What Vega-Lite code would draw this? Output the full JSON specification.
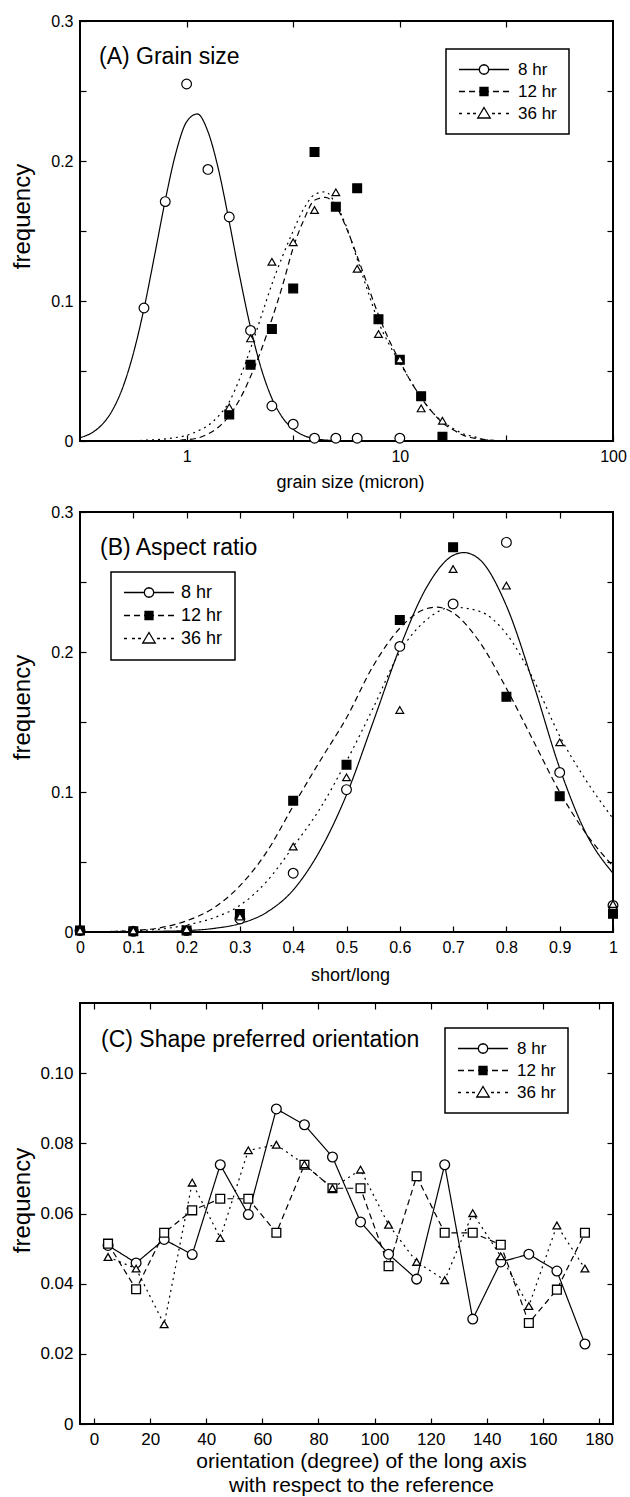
{
  "$schema": "https://vega.github.io/schema/vega-lite/v6.json",
  "background": "white",
  "padding": {"left": 9, "top": 12, "right": 4, "bottom": 0},
  "bounds": "flush",
  "spacing": 71,
  "config": {
    "font": "Liberation Sans",
    "view": {"stroke": "black", "strokeWidth": 2},
    "axis": {"domain": false, "grid": false, "tickColor": "black", "tickWidth": 1.2, "tickSize": -6, "labelColor": "black", "labelFont": "Liberation Sans Narrow, Liberation Sans, Arial, sans-serif", "labelFontSize": 16, "labelPadding": 13, "labelFlush": false, "labelOverlap": false, "titleColor": "black", "titleFont": "Liberation Sans", "titleFontWeight": "normal", "titleFontSize": 24},
    "legend": {"strokeWidth": 1.5},
    "title": {"font": "Liberation Sans", "fontSize": 23, "fontWeight": "normal", "color": "black", "anchor": "start", "frame": "group", "baseline": "alphabetic"}
  },
  "datasets": {
    "ptsA": [
      {"x": 0.631, "y": 0.095, "s": "8 hr"}, {"x": 0.794, "y": 0.171, "s": "8 hr"}, {"x": 1.0, "y": 0.255, "s": "8 hr"}, {"x": 1.259, "y": 0.194, "s": "8 hr"}, {"x": 1.585, "y": 0.16, "s": "8 hr"}, {"x": 1.995, "y": 0.079, "s": "8 hr"}, {"x": 2.512, "y": 0.025, "s": "8 hr"}, {"x": 3.162, "y": 0.012, "s": "8 hr"}, {"x": 3.981, "y": 0.002, "s": "8 hr"}, {"x": 5.012, "y": 0.002, "s": "8 hr"}, {"x": 6.31, "y": 0.002, "s": "8 hr"}, {"x": 10, "y": 0.002, "s": "8 hr"},
      {"x": 1.585, "y": 0.019, "s": "12 hr"}, {"x": 1.995, "y": 0.0545, "s": "12 hr"}, {"x": 2.512, "y": 0.08, "s": "12 hr"}, {"x": 3.162, "y": 0.109, "s": "12 hr"}, {"x": 3.981, "y": 0.2064, "s": "12 hr"}, {"x": 5.012, "y": 0.1674, "s": "12 hr"}, {"x": 6.31, "y": 0.1805, "s": "12 hr"}, {"x": 7.943, "y": 0.087, "s": "12 hr"}, {"x": 10, "y": 0.058, "s": "12 hr"}, {"x": 12.59, "y": 0.032, "s": "12 hr"}, {"x": 15.85, "y": 0.003, "s": "12 hr"},
      {"x": 1.585, "y": 0.024, "s": "36 hr"}, {"x": 1.995, "y": 0.0733, "s": "36 hr"}, {"x": 2.512, "y": 0.128, "s": "36 hr"}, {"x": 3.162, "y": 0.142, "s": "36 hr"}, {"x": 3.981, "y": 0.165, "s": "36 hr"}, {"x": 5.012, "y": 0.1776, "s": "36 hr"}, {"x": 6.31, "y": 0.123, "s": "36 hr"}, {"x": 7.943, "y": 0.0764, "s": "36 hr"}, {"x": 10, "y": 0.0583, "s": "36 hr"}, {"x": 12.59, "y": 0.0233, "s": "36 hr"}, {"x": 15.85, "y": 0.0145, "s": "36 hr"}
    ],
    "crvA": [
      {"x": 0.3162, "y": 0.0024, "s": "8 hr"}, {"x": 0.3548, "y": 0.0054, "s": "8 hr"}, {"x": 0.3981, "y": 0.0112, "s": "8 hr"}, {"x": 0.4467, "y": 0.0214, "s": "8 hr"}, {"x": 0.5012, "y": 0.038, "s": "8 hr"}, {"x": 0.5623, "y": 0.0624, "s": "8 hr"}, {"x": 0.631, "y": 0.0945, "s": "8 hr"}, {"x": 0.7079, "y": 0.1327, "s": "8 hr"}, {"x": 0.7943, "y": 0.172, "s": "8 hr"}, {"x": 0.8913, "y": 0.206, "s": "8 hr"}, {"x": 1.0, "y": 0.228, "s": "8 hr"}, {"x": 1.122, "y": 0.2336, "s": "8 hr"}, {"x": 1.259, "y": 0.221, "s": "8 hr"}, {"x": 1.413, "y": 0.1935, "s": "8 hr"}, {"x": 1.585, "y": 0.1565, "s": "8 hr"}, {"x": 1.778, "y": 0.117, "s": "8 hr"}, {"x": 1.995, "y": 0.081, "s": "8 hr"}, {"x": 2.239, "y": 0.0517, "s": "8 hr"}, {"x": 2.512, "y": 0.0305, "s": "8 hr"}, {"x": 2.818, "y": 0.0167, "s": "8 hr"}, {"x": 3.162, "y": 0.0084, "s": "8 hr"}, {"x": 3.548, "y": 0.0039, "s": "8 hr"}, {"x": 3.981, "y": 0.0017, "s": "8 hr"}, {"x": 5.012, "y": 0.0003, "s": "8 hr"}, {"x": 6.31, "y": 0, "s": "8 hr"}, {"x": 10, "y": 0, "s": "8 hr"}, {"x": 100, "y": 0, "s": "8 hr"},
      {"x": 0.3162, "y": 0, "s": "12 hr"}, {"x": 0.631, "y": 0, "s": "12 hr"}, {"x": 0.7943, "y": 0, "s": "12 hr"}, {"x": 1.0, "y": 0.001, "s": "12 hr"}, {"x": 1.122, "y": 0.002, "s": "12 hr"}, {"x": 1.259, "y": 0.005, "s": "12 hr"}, {"x": 1.413, "y": 0.01, "s": "12 hr"}, {"x": 1.585, "y": 0.018, "s": "12 hr"}, {"x": 1.778, "y": 0.03, "s": "12 hr"}, {"x": 1.995, "y": 0.046, "s": "12 hr"}, {"x": 2.239, "y": 0.065, "s": "12 hr"}, {"x": 2.512, "y": 0.087, "s": "12 hr"}, {"x": 2.818, "y": 0.111, "s": "12 hr"}, {"x": 3.162, "y": 0.138, "s": "12 hr"}, {"x": 3.548, "y": 0.158, "s": "12 hr"}, {"x": 3.981, "y": 0.172, "s": "12 hr"}, {"x": 4.467, "y": 0.174, "s": "12 hr"}, {"x": 5.012, "y": 0.168, "s": "12 hr"}, {"x": 5.623, "y": 0.152, "s": "12 hr"}, {"x": 6.31, "y": 0.132, "s": "12 hr"}, {"x": 7.079, "y": 0.111, "s": "12 hr"}, {"x": 7.943, "y": 0.09, "s": "12 hr"}, {"x": 8.913, "y": 0.072, "s": "12 hr"}, {"x": 10, "y": 0.057, "s": "12 hr"}, {"x": 11.22, "y": 0.043, "s": "12 hr"}, {"x": 12.59, "y": 0.031, "s": "12 hr"}, {"x": 14.13, "y": 0.021, "s": "12 hr"}, {"x": 15.85, "y": 0.013, "s": "12 hr"}, {"x": 17.78, "y": 0.008, "s": "12 hr"}, {"x": 19.95, "y": 0.004, "s": "12 hr"}, {"x": 22.39, "y": 0.002, "s": "12 hr"}, {"x": 25.12, "y": 0.001, "s": "12 hr"}, {"x": 31.62, "y": 0, "s": "12 hr"}, {"x": 100, "y": 0, "s": "12 hr"},
      {"x": 0.3162, "y": 0, "s": "36 hr"}, {"x": 0.5012, "y": 0, "s": "36 hr"}, {"x": 0.631, "y": 0.0005, "s": "36 hr"}, {"x": 0.7943, "y": 0.0015, "s": "36 hr"}, {"x": 0.8913, "y": 0.0025, "s": "36 hr"}, {"x": 1.0, "y": 0.004, "s": "36 hr"}, {"x": 1.122, "y": 0.007, "s": "36 hr"}, {"x": 1.259, "y": 0.011, "s": "36 hr"}, {"x": 1.413, "y": 0.018, "s": "36 hr"}, {"x": 1.585, "y": 0.028, "s": "36 hr"}, {"x": 1.778, "y": 0.045, "s": "36 hr"}, {"x": 1.995, "y": 0.066, "s": "36 hr"}, {"x": 2.239, "y": 0.089, "s": "36 hr"}, {"x": 2.512, "y": 0.112, "s": "36 hr"}, {"x": 2.818, "y": 0.132, "s": "36 hr"}, {"x": 3.162, "y": 0.15, "s": "36 hr"}, {"x": 3.548, "y": 0.166, "s": "36 hr"}, {"x": 3.981, "y": 0.176, "s": "36 hr"}, {"x": 4.467, "y": 0.178, "s": "36 hr"}, {"x": 5.012, "y": 0.169, "s": "36 hr"}, {"x": 5.623, "y": 0.153, "s": "36 hr"}, {"x": 6.31, "y": 0.13, "s": "36 hr"}, {"x": 7.079, "y": 0.107, "s": "36 hr"}, {"x": 7.943, "y": 0.085, "s": "36 hr"}, {"x": 8.913, "y": 0.069, "s": "36 hr"}, {"x": 10, "y": 0.056, "s": "36 hr"}, {"x": 11.22, "y": 0.043, "s": "36 hr"}, {"x": 12.59, "y": 0.031, "s": "36 hr"}, {"x": 14.13, "y": 0.021, "s": "36 hr"}, {"x": 15.85, "y": 0.014, "s": "36 hr"}, {"x": 17.78, "y": 0.009, "s": "36 hr"}, {"x": 19.95, "y": 0.005, "s": "36 hr"}, {"x": 22.39, "y": 0.003, "s": "36 hr"}, {"x": 25.12, "y": 0.001, "s": "36 hr"}, {"x": 31.62, "y": 0, "s": "36 hr"}, {"x": 100, "y": 0, "s": "36 hr"}
    ],
    "ptsB": [
      {"x": 0, "y": 0.001, "s": "8 hr"}, {"x": 0.1, "y": 0.0005, "s": "8 hr"}, {"x": 0.2, "y": 0.001, "s": "8 hr"}, {"x": 0.3, "y": 0.0093, "s": "8 hr"}, {"x": 0.4, "y": 0.042, "s": "8 hr"}, {"x": 0.5, "y": 0.1017, "s": "8 hr"}, {"x": 0.6, "y": 0.204, "s": "8 hr"}, {"x": 0.7, "y": 0.2343, "s": "8 hr"}, {"x": 0.8, "y": 0.2783, "s": "8 hr"}, {"x": 0.9, "y": 0.114, "s": "8 hr"}, {"x": 1.0, "y": 0.019, "s": "8 hr"},
      {"x": 0, "y": 0.001, "s": "12 hr"}, {"x": 0.1, "y": 0.0005, "s": "12 hr"}, {"x": 0.2, "y": 0.001, "s": "12 hr"}, {"x": 0.3, "y": 0.0129, "s": "12 hr"}, {"x": 0.4, "y": 0.0938, "s": "12 hr"}, {"x": 0.5, "y": 0.1195, "s": "12 hr"}, {"x": 0.6, "y": 0.2229, "s": "12 hr"}, {"x": 0.7, "y": 0.2748, "s": "12 hr"}, {"x": 0.8, "y": 0.168, "s": "12 hr"}, {"x": 0.9, "y": 0.097, "s": "12 hr"}, {"x": 1.0, "y": 0.013, "s": "12 hr"},
      {"x": 0, "y": 0.001, "s": "36 hr"}, {"x": 0.1, "y": 0.001, "s": "36 hr"}, {"x": 0.2, "y": 0.002, "s": "36 hr"}, {"x": 0.3, "y": 0.011, "s": "36 hr"}, {"x": 0.4, "y": 0.061, "s": "36 hr"}, {"x": 0.5, "y": 0.1105, "s": "36 hr"}, {"x": 0.6, "y": 0.1586, "s": "36 hr"}, {"x": 0.7, "y": 0.2593, "s": "36 hr"}, {"x": 0.8, "y": 0.2474, "s": "36 hr"}, {"x": 0.9, "y": 0.1355, "s": "36 hr"}, {"x": 1.0, "y": 0.02, "s": "36 hr"}
    ],
    "crvB": [
      {"x": 0, "y": 0, "s": "8 hr"}, {"x": 0.05, "y": 0, "s": "8 hr"}, {"x": 0.1, "y": 0, "s": "8 hr"}, {"x": 0.15, "y": 0.0005, "s": "8 hr"}, {"x": 0.2, "y": 0.001, "s": "8 hr"}, {"x": 0.25, "y": 0.0025, "s": "8 hr"}, {"x": 0.3, "y": 0.006, "s": "8 hr"}, {"x": 0.35, "y": 0.014, "s": "8 hr"}, {"x": 0.4, "y": 0.03, "s": "8 hr"}, {"x": 0.45, "y": 0.058, "s": "8 hr"}, {"x": 0.5, "y": 0.098, "s": "8 hr"}, {"x": 0.55, "y": 0.15, "s": "8 hr"}, {"x": 0.6, "y": 0.203, "s": "8 hr"}, {"x": 0.65, "y": 0.246, "s": "8 hr"}, {"x": 0.7, "y": 0.269, "s": "8 hr"}, {"x": 0.72, "y": 0.271, "s": "8 hr"}, {"x": 0.75, "y": 0.266, "s": "8 hr"}, {"x": 0.8, "y": 0.233, "s": "8 hr"}, {"x": 0.85, "y": 0.178, "s": "8 hr"}, {"x": 0.9, "y": 0.117, "s": "8 hr"}, {"x": 0.95, "y": 0.07, "s": "8 hr"}, {"x": 1.0, "y": 0.042, "s": "8 hr"},
      {"x": 0, "y": 0, "s": "12 hr"}, {"x": 0.05, "y": 0.0003, "s": "12 hr"}, {"x": 0.1, "y": 0.001, "s": "12 hr"}, {"x": 0.15, "y": 0.003, "s": "12 hr"}, {"x": 0.2, "y": 0.008, "s": "12 hr"}, {"x": 0.25, "y": 0.017, "s": "12 hr"}, {"x": 0.3, "y": 0.033, "s": "12 hr"}, {"x": 0.35, "y": 0.057, "s": "12 hr"}, {"x": 0.4, "y": 0.09, "s": "12 hr"}, {"x": 0.45, "y": 0.122, "s": "12 hr"}, {"x": 0.5, "y": 0.153, "s": "12 hr"}, {"x": 0.55, "y": 0.19, "s": "12 hr"}, {"x": 0.6, "y": 0.217, "s": "12 hr"}, {"x": 0.65, "y": 0.231, "s": "12 hr"}, {"x": 0.67, "y": 0.232, "s": "12 hr"}, {"x": 0.7, "y": 0.228, "s": "12 hr"}, {"x": 0.75, "y": 0.207, "s": "12 hr"}, {"x": 0.8, "y": 0.174, "s": "12 hr"}, {"x": 0.85, "y": 0.137, "s": "12 hr"}, {"x": 0.9, "y": 0.1, "s": "12 hr"}, {"x": 0.95, "y": 0.07, "s": "12 hr"}, {"x": 1.0, "y": 0.047, "s": "12 hr"},
      {"x": 0, "y": 0, "s": "36 hr"}, {"x": 0.05, "y": 0.0003, "s": "36 hr"}, {"x": 0.1, "y": 0.001, "s": "36 hr"}, {"x": 0.15, "y": 0.002, "s": "36 hr"}, {"x": 0.2, "y": 0.005, "s": "36 hr"}, {"x": 0.25, "y": 0.01, "s": "36 hr"}, {"x": 0.3, "y": 0.019, "s": "36 hr"}, {"x": 0.35, "y": 0.036, "s": "36 hr"}, {"x": 0.4, "y": 0.061, "s": "36 hr"}, {"x": 0.45, "y": 0.088, "s": "36 hr"}, {"x": 0.5, "y": 0.122, "s": "36 hr"}, {"x": 0.55, "y": 0.16, "s": "36 hr"}, {"x": 0.6, "y": 0.2, "s": "36 hr"}, {"x": 0.65, "y": 0.223, "s": "36 hr"}, {"x": 0.7, "y": 0.232, "s": "36 hr"}, {"x": 0.75, "y": 0.229, "s": "36 hr"}, {"x": 0.8, "y": 0.213, "s": "36 hr"}, {"x": 0.85, "y": 0.181, "s": "36 hr"}, {"x": 0.9, "y": 0.14, "s": "36 hr"}, {"x": 0.95, "y": 0.108, "s": "36 hr"}, {"x": 1.0, "y": 0.081, "s": "36 hr"}
    ],
    "ptsC": [
      {"x": 5, "y": 0.0509, "s": "8 hr"}, {"x": 15, "y": 0.0459, "s": "8 hr"}, {"x": 25, "y": 0.0526, "s": "8 hr"}, {"x": 35, "y": 0.0483, "s": "8 hr"}, {"x": 45, "y": 0.0739, "s": "8 hr"}, {"x": 55, "y": 0.0597, "s": "8 hr"}, {"x": 65, "y": 0.0898, "s": "8 hr"}, {"x": 75, "y": 0.0853, "s": "8 hr"}, {"x": 85, "y": 0.0761, "s": "8 hr"}, {"x": 95, "y": 0.0576, "s": "8 hr"}, {"x": 105, "y": 0.0484, "s": "8 hr"}, {"x": 115, "y": 0.0413, "s": "8 hr"}, {"x": 125, "y": 0.0739, "s": "8 hr"}, {"x": 135, "y": 0.0299, "s": "8 hr"}, {"x": 145, "y": 0.0462, "s": "8 hr"}, {"x": 155, "y": 0.0484, "s": "8 hr"}, {"x": 165, "y": 0.0436, "s": "8 hr"}, {"x": 175, "y": 0.0228, "s": "8 hr"},
      {"x": 5, "y": 0.0514, "s": "12 hr"}, {"x": 15, "y": 0.0384, "s": "12 hr"}, {"x": 25, "y": 0.0545, "s": "12 hr"}, {"x": 35, "y": 0.0609, "s": "12 hr"}, {"x": 45, "y": 0.0642, "s": "12 hr"}, {"x": 55, "y": 0.0642, "s": "12 hr"}, {"x": 65, "y": 0.0545, "s": "12 hr"}, {"x": 75, "y": 0.0739, "s": "12 hr"}, {"x": 85, "y": 0.0672, "s": "12 hr"}, {"x": 95, "y": 0.0672, "s": "12 hr"}, {"x": 105, "y": 0.045, "s": "12 hr"}, {"x": 115, "y": 0.0706, "s": "12 hr"}, {"x": 125, "y": 0.0545, "s": "12 hr"}, {"x": 135, "y": 0.0545, "s": "12 hr"}, {"x": 145, "y": 0.0511, "s": "12 hr"}, {"x": 155, "y": 0.0288, "s": "12 hr"}, {"x": 165, "y": 0.0383, "s": "12 hr"}, {"x": 175, "y": 0.0545, "s": "12 hr"},
      {"x": 5, "y": 0.0476, "s": "36 hr"}, {"x": 15, "y": 0.0443, "s": "36 hr"}, {"x": 25, "y": 0.0284, "s": "36 hr"}, {"x": 35, "y": 0.0688, "s": "36 hr"}, {"x": 45, "y": 0.053, "s": "36 hr"}, {"x": 55, "y": 0.078, "s": "36 hr"}, {"x": 65, "y": 0.0796, "s": "36 hr"}, {"x": 75, "y": 0.074, "s": "36 hr"}, {"x": 85, "y": 0.0672, "s": "36 hr"}, {"x": 95, "y": 0.0725, "s": "36 hr"}, {"x": 105, "y": 0.0568, "s": "36 hr"}, {"x": 115, "y": 0.0462, "s": "36 hr"}, {"x": 125, "y": 0.041, "s": "36 hr"}, {"x": 135, "y": 0.0601, "s": "36 hr"}, {"x": 145, "y": 0.0478, "s": "36 hr"}, {"x": 155, "y": 0.0336, "s": "36 hr"}, {"x": 165, "y": 0.0566, "s": "36 hr"}, {"x": 175, "y": 0.0443, "s": "36 hr"}
    ]
  },
  "vconcat": [
    {
      "width": 533, "height": 420,
      "title": {"text": "(A) Grain size", "offset": -56, "dx": 19},
      "resolve": {"scale": {"shape": "independent"}, "axis": {"x": "independent", "y": "independent"}},
      "layer": [
        {
          "data": {"name": "crvA"},
          "mark": {"type": "line", "color": "black", "strokeWidth": 1.2, "interpolate": "monotone"},
          "encoding": {
            "x": {"field": "x", "type": "quantitative", "scale": {"type": "log", "domain": [0.3162, 100], "nice": false},
              "axis": {"orient": "bottom", "values": [1, 3.1623, 10, 31.623, 100], "labelExpr": "datum.value == 1 ? '1' : datum.value == 10 ? '10' : datum.value == 100 ? '100' : ''", "title": "grain size (micron)", "titleFontSize": 18, "titleX": 270, "titleY": 46, "titleBaseline": "alphabetic"}},
            "y": {"field": "y", "type": "quantitative", "scale": {"domain": [0, 0.3], "nice": false},
              "axis": {"orient": "left", "values": [0, 0.05, 0.1, 0.15, 0.2, 0.25, 0.3], "labelExpr": "datum.value == 0 ? '0' : (round(datum.value*100) % 10 == 0 ? format(datum.value, '.1f') : '')", "title": "frequency", "titleX": -46, "titleY": 195, "titleBaseline": "bottom"}},
            "strokeDash": {"field": "s", "type": "nominal", "scale": {"domain": ["8 hr", "12 hr", "36 hr"], "range": [[1, 0], [6, 4], [2, 4]]}, "legend": null}
          }
        },
        {
          "data": {"name": "ptsA"},
          "mark": {"type": "point", "filled": true, "stroke": "black", "strokeWidth": 1.2, "opacity": 1},
          "encoding": {
            "x": {"field": "x", "type": "quantitative", "scale": {"type": "log", "domain": [0.3162, 100], "nice": false},
              "axis": {"orient": "top", "values": [1, 3.1623, 10, 31.623], "labels": false, "title": null}},
            "y": {"field": "y", "type": "quantitative", "scale": {"domain": [0, 0.3], "nice": false},
              "axis": {"orient": "right", "values": [0.05, 0.1, 0.15, 0.2, 0.25], "labels": false, "title": null}},
            "shape": {"field": "s", "type": "nominal", "scale": {"domain": ["8 hr", "12 hr", "36 hr"], "range": ["circle", "square", "triangle-up"]}, "legend": null},
            "fill": {"field": "s", "type": "nominal", "scale": {"domain": ["8 hr", "12 hr", "36 hr"], "range": ["white", "black", "white"]}, "legend": null},
            "size": {"field": "s", "type": "ordinal", "scale": {"domain": ["8 hr", "12 hr", "36 hr"], "range": [95, 60, 160]}, "legend": null}
          }
        },
        {
          "data": {"name": "ptsA"},
          "mark": {"type": "point", "filled": false, "color": "black", "strokeWidth": 1.3, "opacity": 0},
          "encoding": {
            "x": {"field": "x", "type": "quantitative", "scale": {"type": "log", "domain": [0.3162, 100], "nice": false}, "axis": null},
            "y": {"field": "y", "type": "quantitative", "scale": {"domain": [0, 0.3], "nice": false}, "axis": null},
            "shape": {"field": "s", "type": "nominal",
              "scale": {"domain": ["8 hr", "12 hr", "36 hr"], "range": [
                "M-1,0L-0.19,0M0.19,0L1,0M0.19,0L0.165,0.095L0.095,0.165L0,0.19L-0.095,0.165L-0.165,0.095L-0.19,0L-0.165,-0.095L-0.095,-0.165L0,-0.19L0.095,-0.165L0.165,-0.095Z",
                "M-1,0L-0.76,0M-0.6,0L-0.36,0M0.36,0L0.6,0M0.76,0L1,0M-0.2,0L0.2,0M-0.16,-0.16L0.16,-0.16L0.16,0.16L-0.16,0.16ZM-0.16,-0.12L0.16,-0.12M-0.16,-0.08L0.16,-0.08M-0.16,-0.04L0.16,-0.04M-0.16,0.04L0.16,0.04M-0.16,0.08L0.16,0.08M-0.16,0.12L0.16,0.12",
                "M-1,0L-0.88,0M-0.68,0L-0.56,0M-0.44,0L-0.32,0M0.32,0L0.44,0M0.56,0L0.68,0M0.88,0L1,0M0,-0.24L0.25,0.18L-0.25,0.18Z"
              ]},
              "legend": {"orient": "none", "legendX": 366, "legendY": 28, "title": null, "symbolSize": 2500, "symbolStrokeWidth": 1.3, "symbolStrokeColor": "black", "symbolOpacity": 1, "clipHeight": 17, "labelFontSize": 17, "labelFont": "Liberation Sans", "labelColor": "black", "labelOffset": 8, "padding": 12, "rowPadding": 4, "strokeColor": "black", "fillColor": "white"}}
          }
        }
      ]
    },
    {
      "width": 533, "height": 420,
      "title": {"text": "(B) Aspect ratio", "offset": -56, "dx": 20},
      "resolve": {"scale": {"shape": "independent"}, "axis": {"x": "independent", "y": "independent"}},
      "layer": [
        {
          "data": {"name": "crvB"},
          "mark": {"type": "line", "color": "black", "strokeWidth": 1.2, "interpolate": "monotone"},
          "encoding": {
            "x": {"field": "x", "type": "quantitative", "scale": {"domain": [0, 1], "nice": false},
              "axis": {"orient": "bottom", "values": [0, 0.1, 0.2, 0.3, 0.4, 0.5, 0.6, 0.7, 0.8, 0.9, 1], "labelExpr": "datum.value == 0 ? '0' : datum.value == 1 ? '1' : format(datum.value, '.1f')", "title": "short/long", "titleFontSize": 18, "titleX": 270, "titleY": 48, "titleBaseline": "alphabetic"}},
            "y": {"field": "y", "type": "quantitative", "scale": {"domain": [0, 0.3], "nice": false},
              "axis": {"orient": "left", "values": [0, 0.05, 0.1, 0.15, 0.2, 0.25, 0.3], "labelExpr": "datum.value == 0 ? '0' : (round(datum.value*100) % 10 == 0 ? format(datum.value, '.1f') : '')", "title": "frequency", "titleX": -46, "titleY": 195, "titleBaseline": "bottom"}},
            "strokeDash": {"field": "s", "type": "nominal", "scale": {"domain": ["8 hr", "12 hr", "36 hr"], "range": [[1, 0], [6, 4], [2, 4]]}, "legend": null}
          }
        },
        {
          "data": {"name": "ptsB"},
          "mark": {"type": "point", "filled": true, "stroke": "black", "strokeWidth": 1.2, "opacity": 1},
          "encoding": {
            "x": {"field": "x", "type": "quantitative", "scale": {"domain": [0, 1], "nice": false},
              "axis": {"orient": "top", "values": [0.1, 0.2, 0.3, 0.4, 0.5, 0.6, 0.7, 0.8, 0.9], "labels": false, "title": null}},
            "y": {"field": "y", "type": "quantitative", "scale": {"domain": [0, 0.3], "nice": false},
              "axis": {"orient": "right", "values": [0.05, 0.1, 0.15, 0.2, 0.25], "labels": false, "title": null}},
            "shape": {"field": "s", "type": "nominal", "scale": {"domain": ["8 hr", "12 hr", "36 hr"], "range": ["circle", "square", "triangle-up"]}, "legend": null},
            "fill": {"field": "s", "type": "nominal", "scale": {"domain": ["8 hr", "12 hr", "36 hr"], "range": ["white", "black", "white"]}, "legend": null},
            "size": {"field": "s", "type": "ordinal", "scale": {"domain": ["8 hr", "12 hr", "36 hr"], "range": [95, 60, 160]}, "legend": null}
          }
        },
        {
          "data": {"name": "ptsB"},
          "mark": {"type": "point", "filled": false, "color": "black", "strokeWidth": 1.3, "opacity": 0},
          "encoding": {
            "x": {"field": "x", "type": "quantitative", "scale": {"domain": [0, 1], "nice": false}, "axis": null},
            "y": {"field": "y", "type": "quantitative", "scale": {"domain": [0, 0.3], "nice": false}, "axis": null},
            "shape": {"field": "s", "type": "nominal",
              "scale": {"domain": ["8 hr", "12 hr", "36 hr"], "range": [
                "M-1,0L-0.19,0M0.19,0L1,0M0.19,0L0.165,0.095L0.095,0.165L0,0.19L-0.095,0.165L-0.165,0.095L-0.19,0L-0.165,-0.095L-0.095,-0.165L0,-0.19L0.095,-0.165L0.165,-0.095Z",
                "M-1,0L-0.76,0M-0.6,0L-0.36,0M0.36,0L0.6,0M0.76,0L1,0M-0.2,0L0.2,0M-0.16,-0.16L0.16,-0.16L0.16,0.16L-0.16,0.16ZM-0.16,-0.12L0.16,-0.12M-0.16,-0.08L0.16,-0.08M-0.16,-0.04L0.16,-0.04M-0.16,0.04L0.16,0.04M-0.16,0.08L0.16,0.08M-0.16,0.12L0.16,0.12",
                "M-1,0L-0.88,0M-0.68,0L-0.56,0M-0.44,0L-0.32,0M0.32,0L0.44,0M0.56,0L0.68,0M0.88,0L1,0M0,-0.24L0.25,0.18L-0.25,0.18Z"
              ]},
              "legend": {"orient": "none", "legendX": 31, "legendY": 60, "title": null, "symbolSize": 2500, "symbolStrokeWidth": 1.3, "symbolStrokeColor": "black", "symbolOpacity": 1, "clipHeight": 17, "labelFontSize": 18, "labelFont": "Liberation Sans", "labelColor": "black", "labelOffset": 6, "padding": 12, "rowPadding": 4, "strokeColor": "black", "fillColor": "white"}}
          }
        }
      ]
    },
    {
      "width": 533, "height": 421,
      "title": {"text": "(C) Shape preferred orientation", "offset": -50, "dx": 21},
      "resolve": {"scale": {"shape": "independent"}, "axis": {"x": "independent", "y": "independent"}},
      "layer": [
        {
          "data": {"name": "ptsC"},
          "mark": {"type": "line", "color": "black", "strokeWidth": 1.2},
          "encoding": {
            "x": {"field": "x", "type": "quantitative", "scale": {"domain": [-5, 185], "nice": false},
              "axis": {"orient": "bottom", "values": [0, 20, 40, 60, 80, 100, 120, 140, 160, 180], "labelFont": "Liberation Sans", "labelFontSize": 17, "title": ["orientation (degree) of the long axis", "with respect to the reference"], "titleFontSize": 21, "titleLineHeight": 24, "titleX": 281, "titleY": 43, "titleBaseline": "alphabetic"}},
            "y": {"field": "y", "type": "quantitative", "scale": {"domain": [0, 0.12], "nice": false},
              "axis": {"orient": "left", "values": [0, 0.02, 0.04, 0.06, 0.08, 0.1], "labelExpr": "datum.value == 0 ? '0' : format(datum.value, '.2f')", "labelFont": "Liberation Sans", "labelFontSize": 17, "title": "frequency", "titleX": -46, "titleY": 197, "titleBaseline": "bottom"}},
            "strokeDash": {"field": "s", "type": "nominal", "scale": {"domain": ["8 hr", "12 hr", "36 hr"], "range": [[1, 0], [6, 4], [2, 4]]}, "legend": null}
          }
        },
        {
          "data": {"name": "ptsC"},
          "mark": {"type": "point", "filled": true, "fill": "white", "stroke": "black", "strokeWidth": 1.3, "opacity": 1},
          "encoding": {
            "x": {"field": "x", "type": "quantitative", "scale": {"domain": [-5, 185], "nice": false},
              "axis": {"orient": "top", "values": [0, 20, 40, 60, 80, 100, 120, 140, 160, 180], "labels": false, "title": null}},
            "y": {"field": "y", "type": "quantitative", "scale": {"domain": [0, 0.12], "nice": false},
              "axis": {"orient": "right", "values": [0.02, 0.04, 0.06, 0.08, 0.1], "labels": false, "title": null}},
            "shape": {"field": "s", "type": "nominal", "scale": {"domain": ["8 hr", "12 hr", "36 hr"], "range": ["circle", "square", "triangle-up"]}, "legend": null},
            "size": {"field": "s", "type": "ordinal", "scale": {"domain": ["8 hr", "12 hr", "36 hr"], "range": [100, 56, 150]}, "legend": null}
          }
        },
        {
          "data": {"name": "ptsC"},
          "mark": {"type": "point", "filled": false, "color": "black", "strokeWidth": 1.3, "opacity": 0},
          "encoding": {
            "x": {"field": "x", "type": "quantitative", "scale": {"domain": [-5, 185], "nice": false}, "axis": null},
            "y": {"field": "y", "type": "quantitative", "scale": {"domain": [0, 0.12], "nice": false}, "axis": null},
            "shape": {"field": "s", "type": "nominal",
              "scale": {"domain": ["8 hr", "12 hr", "36 hr"], "range": [
                "M-1,0L-0.19,0M0.19,0L1,0M0.19,0L0.165,0.095L0.095,0.165L0,0.19L-0.095,0.165L-0.165,0.095L-0.19,0L-0.165,-0.095L-0.095,-0.165L0,-0.19L0.095,-0.165L0.165,-0.095Z",
                "M-1,0L-0.76,0M-0.6,0L-0.36,0M0.36,0L0.6,0M0.76,0L1,0M-0.2,0L0.2,0M-0.16,-0.16L0.16,-0.16L0.16,0.16L-0.16,0.16ZM-0.16,-0.12L0.16,-0.12M-0.16,-0.08L0.16,-0.08M-0.16,-0.04L0.16,-0.04M-0.16,0.04L0.16,0.04M-0.16,0.08L0.16,0.08M-0.16,0.12L0.16,0.12",
                "M-1,0L-0.88,0M-0.68,0L-0.56,0M-0.44,0L-0.32,0M0.32,0L0.44,0M0.56,0L0.68,0M0.88,0L1,0M0,-0.24L0.25,0.18L-0.25,0.18Z"
              ]},
              "legend": {"orient": "none", "legendX": 365, "legendY": 25, "title": null, "symbolSize": 2500, "symbolStrokeWidth": 1.3, "symbolStrokeColor": "black", "symbolOpacity": 1, "clipHeight": 17, "labelFontSize": 17, "labelFont": "Liberation Sans", "labelColor": "black", "labelOffset": 8, "padding": 12, "rowPadding": 4, "strokeColor": "black", "fillColor": "white"}}
          }
        }
      ]
    }
  ]
}
